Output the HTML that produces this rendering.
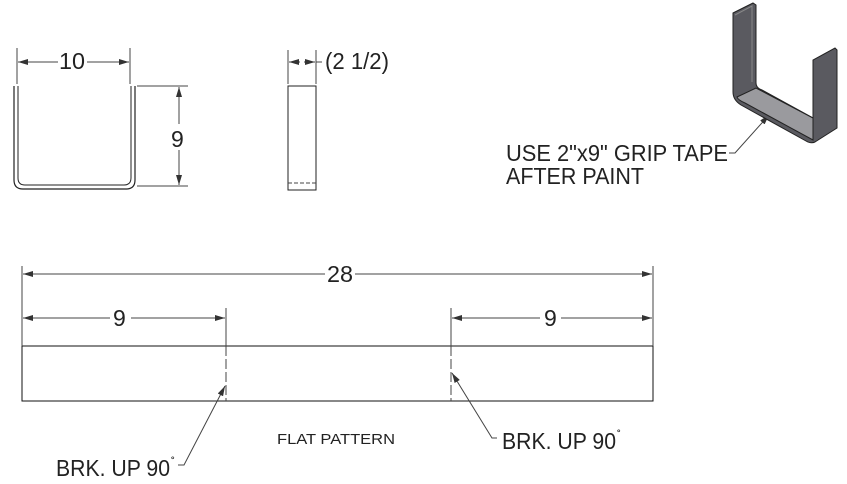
<!DOCTYPE html>
<html><head><style>body{margin:0;background:#fff}svg{display:block}text{font-family:"Liberation Sans",Arial,sans-serif;fill:#222}</style></head><body>
<svg width="847" height="484" viewBox="0 0 847 484" xmlns="http://www.w3.org/2000/svg">
<defs>
<marker id="a" viewBox="0 0 10 6" refX="10" refY="3" markerWidth="10" markerHeight="6" orient="auto-start-reverse" markerUnits="userSpaceOnUse"><path d="M0,0 L10,3 L0,6z" fill="#333"/></marker>
</defs>
<g stroke="#444" stroke-width="1" fill="none">
<path d="M14,86 V180 Q14,189 23,189 H126 Q135,189 135,180 V86" stroke="#222" stroke-width="1.2"/>
<path d="M18,86 V178 Q18,185 25,185 H124 Q131,185 131,178 V86" stroke="#222"/>
<line x1="17" y1="48" x2="17" y2="84"/><line x1="130" y1="48" x2="130" y2="84"/>
<line x1="58" y1="62" x2="18" y2="62" marker-end="url(#a)"/>
<line x1="87" y1="62" x2="129" y2="62" marker-end="url(#a)"/>
<line x1="137" y1="86" x2="188" y2="86"/><line x1="137" y1="186" x2="188" y2="186"/>
<line x1="179" y1="124" x2="179" y2="87" marker-end="url(#a)"/>
<line x1="179" y1="150" x2="179" y2="185" marker-end="url(#a)"/>
<rect x="288" y="86" width="28" height="104" stroke="#222"/>
<line x1="288" y1="183" x2="316" y2="183" stroke-dasharray="4,2"/>
<line x1="288" y1="50" x2="288" y2="84"/><line x1="316" y1="50" x2="316" y2="84"/>
<line x1="300" y1="62" x2="289" y2="62" marker-end="url(#a)"/>
<line x1="304" y1="62" x2="315" y2="62" marker-end="url(#a)"/>
<line x1="316" y1="62" x2="322" y2="62"/>
<rect x="22" y="346" width="631" height="55" stroke="#111"/>
<line x1="22" y1="266" x2="22" y2="346"/><line x1="653" y1="266" x2="653" y2="346"/>
<line x1="226" y1="308" x2="226" y2="346"/><line x1="451" y1="308" x2="451" y2="346"/>
<line x1="226" y1="346" x2="226" y2="401" stroke-dasharray="10,3"/>
<line x1="451" y1="346" x2="451" y2="401" stroke-dasharray="10,3"/>
<line x1="325" y1="274" x2="23" y2="274" marker-end="url(#a)"/>
<line x1="355" y1="274" x2="652" y2="274" marker-end="url(#a)"/>
<line x1="110" y1="318" x2="23" y2="318" marker-end="url(#a)"/>
<line x1="131" y1="318" x2="225" y2="318" marker-end="url(#a)"/>
<line x1="540" y1="318" x2="452" y2="318" marker-end="url(#a)"/>
<line x1="561" y1="318" x2="652" y2="318" marker-end="url(#a)"/>
<path d="M178,465 H184 L225,386" marker-end="url(#a)"/>
<path d="M497,438 H492 L452,373" marker-end="url(#a)"/>
<path d="M729,153 H735 L769,115" marker-end="url(#a)"/>
</g>
<g stroke="#222" stroke-width="1">
<path d="M733,13 L753,3 L756,5 L756,83 Q756,88 762,90 L813,118 L813,60 L835,48 L837,50 L837,128 L815,142 Q811,144 806,141 L741,105 Q733,100 733,92 Z" fill="#5a5a60"/>
<path d="M737,97 L756,88 L813,118 L813,140 L745,103 Q738,100 737,97 Z" fill="#9a9a9e"/>
<path d="M735,15 L752,6 L752,82" fill="none" stroke="#888"/>
</g>
<g font-size="23">
<text x="59" y="69" textLength="26" lengthAdjust="spacingAndGlyphs">10</text>
<text x="171" y="147">9</text>
<text x="325" y="69" textLength="64" lengthAdjust="spacingAndGlyphs">(2 1/2)</text>
<text x="327" y="282" textLength="26" lengthAdjust="spacingAndGlyphs">28</text>
<text x="113" y="326">9</text>
<text x="544" y="326">9</text>
<text x="506" y="161" textLength="222" lengthAdjust="spacingAndGlyphs">USE 2"x9" GRIP TAPE</text>
<text x="506" y="184" textLength="138" lengthAdjust="spacingAndGlyphs">AFTER PAINT</text>
<text x="56" y="476" textLength="114" lengthAdjust="spacingAndGlyphs">BRK. UP 90</text><text x="171" y="466" font-size="12">˚</text>
<text x="502" y="449" textLength="114" lengthAdjust="spacingAndGlyphs">BRK. UP 90</text><text x="617" y="439" font-size="12">˚</text>
</g>
<text x="277" y="444" font-size="15" textLength="118" lengthAdjust="spacingAndGlyphs">FLAT PATTERN</text>
</svg>
</body></html>
